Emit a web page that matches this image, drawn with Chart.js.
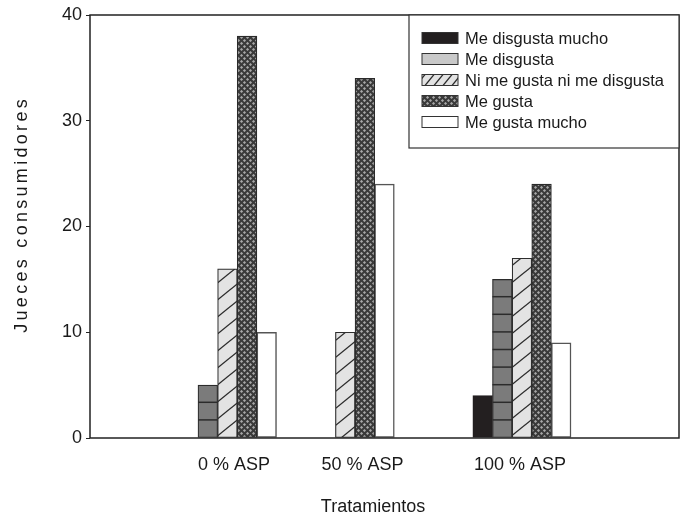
<!DOCTYPE html>
<html><head><meta charset="utf-8">
<script src="https://cdn.jsdelivr.net/npm/chart.js@4.4.1/dist/chart.umd.min.js"></script>
<style>html,body{margin:0;padding:0;background:#fff}#wrap{width:685px;height:522px}</style>
</head><body><div id="wrap"><canvas id="c" width="685" height="522"></canvas></div>
<script>
// ---- data ----
const categories = ['0 % ASP', '50 % ASP', '100 % ASP'];
const seriesNames = ['Me disgusta mucho', 'Me disgusta', 'Ni me gusta ni me disgusta', 'Me gusta', 'Me gusta mucho'];
const meDisgustaMucho = [0, 0, 4];
const meDisgusta = [5, 0, 15];
const niMeGustaNiMeDisgusta = [16, 10, 17];
const meGusta = [38, 34, 24];
const meGustaMucho = [10, 24, 9];
const yTicks = [0, 10, 20, 30, 40];
const xTitle = 'Tratamientos';
const yTitle = 'Jueces consumidores';

// ---- layout / style ----
const LAYOUT = {
  xMax: 30,
  groupCenters: [7, 13, 22],      // slot positions of each group on the x axis
  labelCenters: [7.33, 13.88, 21.9],
  yAxisWidth: 90,
  xAxisHeight: 84,
  yTitlePos: [22, 216],
  xTitlePos: [373, 507],
  legend: { w: 270, h: 133, swX: 13, swW: 36, swH: 11, textX: 56, row0: 23, rowStep: 21 }
};
const FONT = '"Liberation Sans", Arial, sans-serif';
const TXT = '#1a1a1a';
const HATCH_STEP = 17.6;

function makeTile(w, h, draw) {
  const c = document.createElement('canvas');
  c.width = w; c.height = h;
  const g = c.getContext('2d');
  draw(g, w, h);
  return c.getContext('2d').createPattern(c, 'repeat');
}
const diagPattern = (w, h) => makeTile(w, h, (g) => {
  g.fillStyle = '#e3e3e3'; g.fillRect(0, 0, w, h);
  g.strokeStyle = '#2a2a2a'; g.lineWidth = 1.3;
  for (let k = -1; k <= 1; k++) {
    g.beginPath(); g.moveTo(-w, 2 * h + k * h); g.lineTo(2 * w, -h + k * h); g.stroke();
  }
});
const crossPattern = makeTile(6, 6, (g) => {
  g.fillStyle = '#3a3a3a'; g.fillRect(0, 0, 6, 6);
  g.fillStyle = '#a8a8a8';
  [[1.5, 1.5], [4.5, 4.5], [-1.5, 4.5], [7.5, 1.5], [4.5, -1.5], [1.5, 7.5]].forEach(([cx, cy]) => {
    g.beginPath(); g.moveTo(cx, cy - 1.6); g.lineTo(cx + 1.6, cy); g.lineTo(cx, cy + 1.6); g.lineTo(cx - 1.6, cy); g.closePath(); g.fill();
  });
});
const barDiag = diagPattern(21, 17);
const legendDiag = diagPattern(9, 11);

const seriesValues = [meDisgustaMucho, meDisgusta, niMeGustaNiMeDisgusta, meGusta, meGustaMucho];
const barFills = ['#231f20', '#7b7b7b', barDiag, crossPattern, '#ffffff'];
const barBorders = ['#231f20', '#2b2b2b', '#2e2e2e', '#2a2a2a', '#555555'];
const legendFills = ['#231f20', '#c9c9c9', legendDiag, crossPattern, '#ffffff'];

const datasets = seriesValues.map((vals, s) => ({
  label: seriesNames[s],
  data: vals.map((v, i) => ({ x: LAYOUT.groupCenters[i] + (s - 2), y: v })),
  backgroundColor: barFills[s],
  borderColor: barBorders[s],
  borderWidth: s === 4 ? 1.5 : 1.2,
  borderSkipped: false,
  grouped: false,
  barPercentage: 1,
  categoryPercentage: 1
}));

const decorPlugin = {
  id: 'decor',
  afterDatasetsDraw(chart) {
    const ctx = chart.ctx;
    // horizontal line hatching on "Me disgusta" bars
    const meta = chart.getDatasetMeta(1);
    ctx.save();
    ctx.strokeStyle = '#2b2b2b'; ctx.lineWidth = 1.5;
    meta.data.forEach(bar => {
      const p = bar.getProps(['x', 'y', 'base', 'width'], true);
      for (let ly = p.base - HATCH_STEP; ly > p.y + 2; ly -= HATCH_STEP) {
        ctx.beginPath(); ctx.moveTo(p.x - p.width / 2, ly); ctx.lineTo(p.x + p.width / 2, ly); ctx.stroke();
      }
    });
    ctx.restore();
    // plot frame
    const a = chart.chartArea;
    ctx.save();
    ctx.strokeStyle = '#222'; ctx.lineWidth = 1.5;
    ctx.strokeRect(a.left, a.top, a.right - a.left, a.bottom - a.top);
    ctx.restore();
  },
  afterDraw(chart) {
    const ctx = chart.ctx;
    const a = chart.chartArea;
    const L = LAYOUT.legend;
    const bx = a.right - L.w, by = a.top;
    ctx.save();
    ctx.fillStyle = '#fff';
    ctx.fillRect(bx, by, L.w, L.h);
    ctx.strokeStyle = '#333'; ctx.lineWidth = 1.2;
    ctx.strokeRect(bx, by, L.w, L.h);
    ctx.font = '16.5px ' + FONT;
    ctx.textBaseline = 'middle';
    ctx.textAlign = 'left';
    chart.data.datasets.forEach((ds, i) => {
      const cy = by + L.row0 + i * L.rowStep;
      ctx.fillStyle = legendFills[i];
      ctx.fillRect(bx + L.swX, cy - L.swH / 2, L.swW, L.swH);
      ctx.strokeStyle = '#333'; ctx.lineWidth = 1;
      ctx.strokeRect(bx + L.swX, cy - L.swH / 2, L.swW, L.swH);
      ctx.fillStyle = TXT;
      ctx.fillText(ds.label, bx + L.textX, cy + 1);
    });
    ctx.restore();
    // axis titles
    ctx.save();
    ctx.fillStyle = TXT;
    ctx.font = '18px ' + FONT;
    ctx.textAlign = 'center';
    ctx.textBaseline = 'middle';
    ctx.fillText(xTitle, LAYOUT.xTitlePos[0], LAYOUT.xTitlePos[1]);
    ctx.translate(LAYOUT.yTitlePos[0], LAYOUT.yTitlePos[1]);
    ctx.rotate(-Math.PI / 2);
    ctx.letterSpacing = '3.3px';
    ctx.fillText(yTitle, 1.6, 0);
    ctx.restore();
  }
};

new Chart(document.getElementById('c'), {
  type: 'bar',
  data: { datasets },
  options: {
    responsive: false,
    animation: false,
    devicePixelRatio: 1,
    layout: { padding: { left: 0, right: 6, top: 15, bottom: 0 } },
    plugins: { legend: { display: false }, tooltip: { enabled: false } },
    scales: {
      x: {
        type: 'linear', min: 0, max: LAYOUT.xMax, offset: false,
        grid: { display: false, drawTicks: false },
        border: { display: false },
        afterBuildTicks: s => { s.ticks = LAYOUT.labelCenters.map(v => ({ value: v })); },
        afterFit: s => { s.height = LAYOUT.xAxisHeight; },
        ticks: {
          autoSkip: false, maxRotation: 0, padding: 16, color: TXT,
          font: { family: FONT, size: 18 },
          callback: (v, i) => categories[i]
        }
      },
      y: {
        type: 'linear', min: yTicks[0], max: yTicks[yTicks.length - 1],
        afterBuildTicks: s => { s.ticks = yTicks.map(v => ({ value: v })); },
        afterFit: s => { s.width = LAYOUT.yAxisWidth; },
        grid: { display: true, drawOnChartArea: false, drawTicks: true, tickLength: 4, color: '#222', lineWidth: 1 },
        border: { display: false },
        ticks: { padding: 4, color: TXT, font: { family: FONT, size: 18 } }
      }
    }
  },
  plugins: [decorPlugin]
});
</script>
</body></html>
